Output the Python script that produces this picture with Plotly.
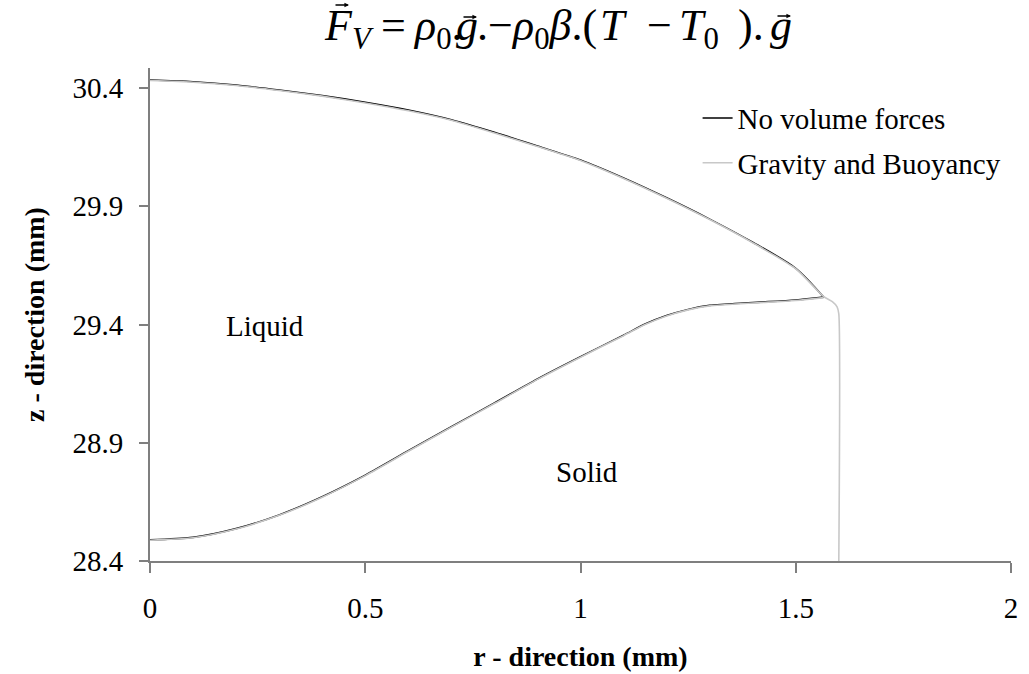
import plotly.graph_objects as go

# ---- data ----
# "No volume forces" interface: lower (solidification) front and upper free surface
nv_lower_r = [0.0, 0.1, 0.2, 0.3, 0.4, 0.5, 0.6, 0.7, 0.8, 0.9, 1.0, 1.1, 1.15, 1.2, 1.25, 1.3, 1.4, 1.5, 1.565]
nv_lower_z = [28.490, 28.500, 28.537, 28.595, 28.672, 28.763, 28.866, 28.968, 29.068, 29.170, 29.264,
              29.355, 29.402, 29.438, 29.464, 29.481, 29.493, 29.504, 29.516]
nv_upper_r = [1.565, 1.5, 1.4, 1.3, 1.2, 1.1, 1.0, 0.9, 0.8, 0.7, 0.6, 0.5, 0.4, 0.3, 0.2, 0.1, 0.0]
nv_upper_z = [29.516, 29.638, 29.748, 29.846, 29.936, 30.020, 30.096, 30.155, 30.213, 30.266, 30.307,
              30.340, 30.368, 30.392, 30.413, 30.427, 30.434]

# "Gravity and Buoyancy": free surface + meniscus/side wall, and solidification front
gb_upper_r = [0.0, 0.1, 0.2, 0.3, 0.4, 0.5, 0.6, 0.7, 0.8, 0.9, 1.0, 1.1, 1.2, 1.3, 1.4, 1.5, 1.565,
              1.585, 1.596, 1.6, 1.6]
gb_upper_z = [30.432, 30.425, 30.411, 30.390, 30.366, 30.337, 30.304, 30.264, 30.210, 30.153, 30.094,
              30.018, 29.934, 29.844, 29.746, 29.636, 29.518, 29.497, 29.475, 29.445, 28.4]
gb_lower_r = [0.0, 0.1, 0.2, 0.3, 0.4, 0.5, 0.6, 0.7, 0.8, 0.9, 1.0, 1.1, 1.15, 1.2, 1.25, 1.3, 1.4, 1.5, 1.565]
gb_lower_z = [28.488, 28.498, 28.535, 28.593, 28.670, 28.761, 28.864, 28.966, 29.066, 29.168, 29.262,
              29.353, 29.400, 29.436, 29.462, 29.479, 29.491, 29.502, 29.514]

x_ticks = [0, 0.5, 1, 1.5, 2]
x_ticklabels = ["0", "0.5", "1", "1.5", "2"]
y_ticks = [28.4, 28.9, 29.4, 29.9, 30.4]
y_ticklabels = ["28.4", "28.9", "29.4", "29.9", "30.4"]

region_labels = ["Liquid", "Solid"]
region_r = [0.267, 1.015]
region_z = [29.394, 28.776]

# equation title, split into pieces (text, x in px, anchor) so vector arrows sit over F and g
title_pieces = [
    ("<i>F</i><sub><i>V</i></sub>", 323, "left"),
    ("=", 393, "center"),
    ("<i>\u03c1</i><sub>0</sub>.", 412, "left"),
    ("<i>g</i>", 455, "left"),
    (".\u2212", 476, "left"),
    ("<i>\u03c1</i><sub>0</sub><i>\u03b2</i>.(", 510, "left"),
    ("<i>T</i>", 599, "left"),
    ("\u2212", 659, "center"),
    ("<i>T</i><sub>0</sub>", 678, "left"),
    (").", 737, "left"),
    ("<i>g</i>", 769, "left"),
]
# vector arrows: (tip x px, y px) -- drawn as short annotation arrows pointing right
arrow_tips = [(349, 5), (477, 17), (791, 16)]

FONT = "Liberation Serif, Times New Roman, serif"
AXIS_COLOR = "#7f7f7f"
TXT = 29

fig = go.Figure()

fig.add_trace(go.Scatter(
    x=nv_lower_r + nv_upper_r, y=nv_lower_z + nv_upper_z,
    mode="lines", name="No volume forces",
    line=dict(color="#000000", width=1.6, shape="spline", smoothing=0.8),
    legendgroup="a",
))
fig.add_trace(go.Scatter(
    x=gb_upper_r, y=gb_upper_z,
    mode="lines", name="Gravity and Buoyancy",
    line=dict(color="#c8c8c8", width=1.6, shape="spline", smoothing=0.6),
    legendgroup="b",
))
fig.add_trace(go.Scatter(
    x=gb_lower_r, y=gb_lower_z,
    mode="lines", name="Gravity and Buoyancy", showlegend=False,
    line=dict(color="#c8c8c8", width=1.6, shape="spline", smoothing=0.8),
    legendgroup="b",
))

for txt, r, z in zip(region_labels, region_r, region_z):
    fig.add_annotation(x=r, y=z, text=txt, showarrow=False,
                       font=dict(family=FONT, size=TXT, color="#000000"))

PLOT_L, PLOT_W, PLOT_B, PLOT_H = 150, 861, 561, 493
for txt, px, anchor in title_pieces:
    fig.add_annotation(xref="paper", yref="paper", x=(px - PLOT_L) / PLOT_W, y=(PLOT_B - 0) / PLOT_H,
                       text=txt, showarrow=False, xanchor=anchor, yanchor="top",
                       borderpad=0, font=dict(family=FONT, size=44, color="#000000"))
for px, py in arrow_tips:
    fig.add_annotation(xref="paper", yref="paper", x=(px - PLOT_L) / PLOT_W, y=(PLOT_B - py) / PLOT_H,
                       text="", showarrow=True, ax=-15, ay=0, axref="pixel", ayref="pixel",
                       arrowhead=2, arrowsize=0.7, arrowwidth=1.3, arrowcolor="#000000",
                       standoff=0, startstandoff=0)

fig.update_layout(
    width=1029, height=674,
    margin=dict(l=150, r=18, t=68, b=113),
    paper_bgcolor="white", plot_bgcolor="white",
    font=dict(family=FONT, size=TXT, color="#000000"),
    showlegend=True,
    legend=dict(x=0.636, y=0.95, xanchor="left", yanchor="top",
                bgcolor="rgba(0,0,0,0)", font=dict(family=FONT, size=TXT),
                tracegroupgap=4, itemwidth=30),
    xaxis=dict(range=[0, 2], tickvals=x_ticks, ticktext=x_ticklabels, automargin=False,
               showgrid=False, zeroline=False, showline=True, linecolor=AXIS_COLOR, linewidth=2,
               ticks="outside", ticklen=10, tickwidth=2, tickcolor=AXIS_COLOR,
               ticklabelstandoff=10,
               tickfont=dict(family=FONT, size=TXT),
               title=dict(text="<b>r - direction (mm)</b>", standoff=24,
                          font=dict(family=FONT, size=28))),
    yaxis=dict(range=[28.4, 30.485], tickvals=y_ticks, ticktext=y_ticklabels, automargin=False,
               showgrid=False, zeroline=False, showline=True, linecolor=AXIS_COLOR, linewidth=2,
               ticks="outside", ticklen=9, tickwidth=2, tickcolor=AXIS_COLOR,
               ticklabelstandoff=10,
               tickfont=dict(family=FONT, size=TXT),
               title=dict(text="<b>z - direction (mm)</b>", standoff=20,
                          font=dict(family=FONT, size=28))),
)

fig.write_html("out.html")
